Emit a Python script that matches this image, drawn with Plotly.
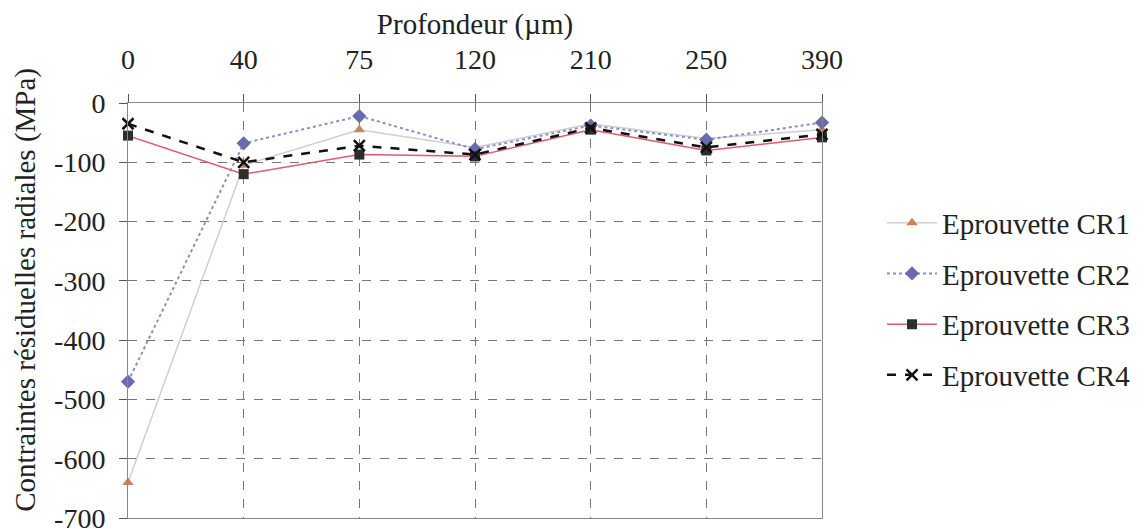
import plotly.graph_objects as go

depths = ["0", "40", "75", "120", "210", "250", "390"]
cr1 = [-640, -105, -45, -75, -35, -60, -45]
cr2 = [-470, -68, -22, -78, -38, -62, -33]
cr3 = [-55, -120, -87, -90, -45, -80, -58]
cr4 = [-35, -100, -72, -87, -42, -75, -53]
names = ["Eprouvette CR1", "Eprouvette CR2", "Eprouvette CR3", "Eprouvette CR4"]
ytick_vals = [0, -100, -200, -300, -400, -500, -600, -700]
ytick_text = ["0", "-100", "-200", "-300", "-400", "-500", "-600", "-700"]
x_title = "Profondeur (µm)"
y_title = "Contraintes résiduelles radiales (MPa)"

FONT = "Liberation Serif"
TITLE = dict(family=FONT, size=29, color="#222222")
TICK = dict(family=FONT, size=28, color="#222222")

fig = go.Figure()
styles = [
    (cr1, dict(color="#cfcfcf", width=1.5, dash="solid"), dict(symbol="triangle-up", size=10, color="#c8845a")),
    (cr2, dict(color="#8c8cc8", width=2, dash="dot"), dict(symbol="diamond", size=11, color="#6a6aae")),
    (cr3, dict(color="#e05a70", width=1.5, dash="solid"), dict(symbol="square", size=10, color="#2e2e2e")),
    (cr4, dict(color="#111111", width=2.5, dash="dash"), dict(symbol="x-thin", size=11, color="#111111", line=dict(width=2.5, color="#111111"))),
]
for name, (vals, line, marker) in zip(names, styles):
    fig.add_trace(go.Scatter(
        x=depths, y=vals, name=name, mode="lines+markers",
        line=line, marker=marker, cliponaxis=False, legendgroup=name,
    ))

fig.add_annotation(
    text=y_title, textangle=-90, showarrow=False,
    xref="paper", yref="paper", x=-0.147, y=0.55,
    xanchor="center", yanchor="middle", font=TITLE,
)

fig.update_layout(
    width=1147, height=529,
    paper_bgcolor="white", plot_bgcolor="white",
    margin=dict(l=120, r=333, t=95, b=19, autoexpand=False),
    font=TICK,
    showlegend=True,
    legend=dict(
        x=1.0865, y=0.528, xanchor="left", yanchor="middle",
        font=TITLE,
        tracegroupgap=10, itemwidth=50, bgcolor="rgba(0,0,0,0)",
    ),
    xaxis=dict(
        type="category", side="top", range=[0, 6],
        title=dict(text=x_title, standoff=2, font=TITLE),
        tickfont=TICK,
        showgrid=True, gridcolor="#777777", griddash="dash", gridwidth=1,
        ticks="outside", ticklen=8, tickcolor="#555555",
        ticklabelstandoff=14, automargin=False,
        showline=True, linecolor="#888888", mirror=True, zeroline=False,
    ),
    yaxis=dict(
        range=[-700, 0], tickvals=ytick_vals, ticktext=ytick_text,
        tickfont=TICK,
        showgrid=True, gridcolor="#777777", griddash="dash", gridwidth=1,
        ticks="outside", ticklen=8, tickcolor="#555555",
        ticklabelstandoff=8, automargin=False,
        showline=True, linecolor="#888888", mirror=True, zeroline=False,
    ),
)

fig.write_html("out.html")
